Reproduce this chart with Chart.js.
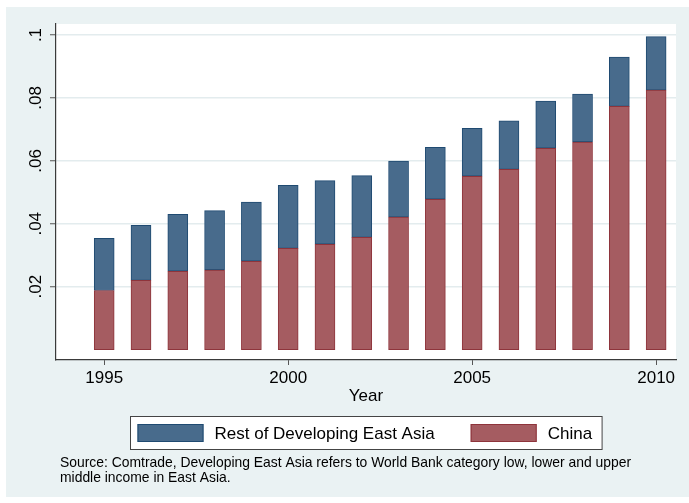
<!DOCTYPE html>
<html>
<head>
<meta charset="utf-8">
<script src="https://cdn.jsdelivr.net/npm/chart.js@4.4.1/dist/chart.umd.min.js"></script>
<style>
  html, body { margin: 0; padding: 0; background: #ffffff; }
  canvas { display: block; }
</style>
</head>
<body>
<canvas id="c" width="689" height="503"></canvas>
<script>
// Share of trade, stacked by origin
const years = [1995, 1996, 1997, 1998, 1999, 2000, 2001, 2002, 2003, 2004, 2005, 2006, 2007, 2008, 2009, 2010];
const china = [0.0188, 0.0220, 0.0249, 0.0253, 0.0281, 0.0322, 0.0335, 0.0357, 0.0421, 0.0478, 0.0551, 0.0573, 0.0640, 0.0660, 0.0773, 0.0825];
const restOfEastAsia = [0.0166, 0.0175, 0.0181, 0.0189, 0.0188, 0.0200, 0.0202, 0.0196, 0.0178, 0.0165, 0.0152, 0.0154, 0.0150, 0.0152, 0.0157, 0.0170];
const seriesNames = ['China', 'Rest of Developing East Asia'];
const yTickValues = [0.02, 0.04, 0.06, 0.08, 0.1];
const yTickLabels = ['.02', '.04', '.06', '.08', '.1'];
const xTickValues = [1995, 2000, 2005, 2010];
const xTickLabels = ['1995', '2000', '2005', '2010'];
const xTitle = 'Year';
const sourceNote = [
  'Source: Comtrade, Developing East Asia refers to World Bank category low, lower and upper',
  'middle income in East Asia.'
];

const FONT = "'Liberation Sans', Arial, Helvetica, sans-serif";
const BG = '#eaf2f3';
const AXIS = '#3a3a3a';

// Background panels, framed legend and the source note
const decor = {
  id: 'decor',
  beforeDraw(chart) {
    const { ctx, chartArea: a } = chart;
    ctx.save();
    ctx.fillStyle = '#ffffff';
    ctx.fillRect(0, 0, chart.width, chart.height);
    ctx.fillStyle = BG;
    ctx.fillRect(6, 7, chart.width - 6, 490);
    ctx.fillStyle = '#ffffff';
    ctx.fillRect(a.left, a.top, a.right - a.left, a.bottom - a.top);
    ctx.restore();
  },
  afterDraw(chart) {
    const { ctx, chartArea: a } = chart;
    const ds = chart.data.datasets.slice().reverse();
    ctx.save();
    ctx.font = '17px ' + FONT;
    const sw = 66, sh = 18, padL = 7, gapText = 11, gapItem = 36, padR = 10;
    const widths = ds.map(d => ctx.measureText(d.label).width);
    let total = padL + padR;
    ds.forEach((d, i) => { total += sw + gapText + widths[i]; if (i < ds.length - 1) total += gapItem; });
    const fx = Math.round((a.left + a.right) / 2 - total / 2) + 0.5;
    const fy = 416.5, fh = 33;
    ctx.fillStyle = '#ffffff';
    ctx.fillRect(fx, fy, total, fh);
    ctx.strokeStyle = '#444444';
    ctx.lineWidth = 1;
    ctx.strokeRect(fx, fy, total, fh);
    let x = fx + padL;
    const cy = fy + fh / 2;
    ds.forEach((d, i) => {
      ctx.fillStyle = d.backgroundColor;
      ctx.fillRect(x, cy - sh / 2, sw, sh);
      ctx.strokeStyle = d.borderColor;
      ctx.strokeRect(x + 0.5, cy - sh / 2 + 0.5, sw - 1, sh - 1);
      x += sw + gapText;
      ctx.fillStyle = '#000000';
      ctx.textBaseline = 'middle';
      ctx.textAlign = 'left';
      ctx.fillText(d.label, x, cy + 1);
      x += widths[i] + gapItem;
    });
    ctx.font = '13.9px ' + FONT;
    ctx.fillStyle = '#000000';
    ctx.textBaseline = 'alphabetic';
    sourceNote.forEach((line, i) => ctx.fillText(line, 60, 467 + i * 15));
    ctx.restore();
  }
};

new Chart(document.getElementById('c'), {
  type: 'bar',
  data: {
    labels: years,
    datasets: [
      {
        label: seriesNames[0],
        data: china,
        backgroundColor: '#a55c61',
        borderColor: '#8e343b',
        borderWidth: 1,
        borderSkipped: false,
        barThickness: 20
      },
      {
        label: seriesNames[1],
        data: restOfEastAsia,
        backgroundColor: '#486b8c',
        borderColor: '#1f4a71',
        borderWidth: 1,
        borderSkipped: false,
        barThickness: 20
      }
    ]
  },
  options: {
    responsive: false,
    animation: false,
    devicePixelRatio: 1,
    layout: { padding: { left: 6, right: 13, top: 24, bottom: 96 } },
    plugins: {
      legend: { display: false },
      tooltip: { enabled: false }
    },
    scales: {
      x: {
        type: 'linear',
        stacked: true,
        offset: false,
        min: 1993.69,
        max: 2010.54,
        afterBuildTicks(scale) { scale.ticks = xTickValues.map(v => ({ value: v })); },
        afterFit(scale) { scale.height = 47; },
        grid: { display: true, offset: false, drawOnChartArea: false, drawTicks: true, tickLength: 5, tickColor: '#555555', tickWidth: 1 },
        border: { display: true, color: AXIS, width: 1.2 },
        ticks: {
          autoSkip: false, maxRotation: 0, minRotation: 0, padding: 3,
          color: '#000000', font: { family: FONT, size: 17 },
          callback: (v, i) => xTickLabels[i]
        },
        title: { display: true, text: xTitle, color: '#000000', font: { family: FONT, size: 17 }, padding: { top: 0, bottom: 0 } }
      },
      y: {
        type: 'linear',
        stacked: true,
        min: -0.0033,
        max: 0.1035,
        afterBuildTicks(scale) { scale.ticks = yTickValues.map(v => ({ value: v })); },
        afterFit(scale) { scale.width = 50; },
        grid: { color: '#e3ecee', lineWidth: 1.5, drawTicks: true, tickLength: 6, tickColor: '#555555', tickWidth: 1 },
        border: { display: true, color: AXIS, width: 1.2 },
        ticks: {
          autoSkip: false, minRotation: 90, maxRotation: 90, crossAlign: 'center', padding: 2,
          color: '#000000', font: { family: FONT, size: 17 },
          callback: (v, i) => yTickLabels[i]
        }
      }
    }
  },
  plugins: [decor]
});
</script>
</body>
</html>
